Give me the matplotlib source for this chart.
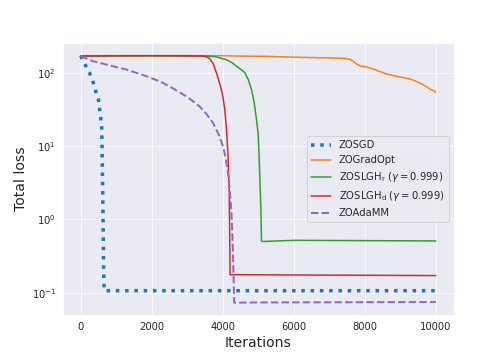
import matplotlib
matplotlib.use("Agg")
import matplotlib.pyplot as plt
import seaborn as sns

# ---- data ----
zosgd_x = [0, 120, 245, 345, 415, 500, 535, 565, 590, 600, 615, 630, 645, 660, 1000, 5000, 10000]
zosgd_y = [170, 129, 100, 75, 57, 43, 31, 23.5, 17.6, 9.7, 3.0, 0.8, 0.2, 0.107, 0.107, 0.107, 0.107]

gradopt_x = [0, 2000, 4000, 4500, 5230, 6080, 7000, 7480, 7600, 7670, 7780, 7900, 8000, 8120, 8230,
             8320, 8400, 8500, 8610, 8700, 8800, 8900, 9000, 9170, 9300, 9400, 9550, 9650, 9750,
             9850, 9930, 10000]
gradopt_y = [170, 171, 170, 168, 167, 162, 159, 156, 150, 143, 130, 122, 121, 117, 112,
             109, 104, 101, 95.5, 94, 91, 89, 87, 84, 81, 78, 72, 68, 64,
             59, 57, 54]

slghr_x = [0, 3000, 3500, 3800, 4100, 4250, 4390, 4520, 4620, 4720, 4810, 4860, 4900, 4950,
           4995, 5020, 5040, 5070, 5090, 5100, 6000, 8000, 10000]
slghr_y = [170, 170, 169, 165, 150, 138, 122, 110, 100, 80, 58.5, 45, 34.5, 22.7,
           14.9, 8.0, 4.2, 1.5, 0.515, 0.50, 0.52, 0.515, 0.51]

slghd_x = [0, 2000, 3450, 3550, 3630, 3720, 3820, 3900, 3960, 4010, 4060, 4100, 4150, 4180,
           4195, 4205, 10000]
slghd_y = [168, 170, 168, 164, 155, 135, 100, 75, 58.5, 45, 30, 18, 7.1, 2.5,
           0.6, 0.177, 0.172]

adamm_x = [0, 100, 350, 800, 1290, 1750, 2230, 2600, 2980, 3200, 3350, 3550, 3730, 3880,
           4010, 4090, 4150, 4200, 4245, 4270, 4290, 4305, 4320, 5000, 10000]
adamm_y = [170, 160, 143, 126, 110, 93, 76, 61, 47.3, 39.5, 34.5, 27, 20.5, 14.5,
           9.8, 6.5, 4.2, 2.4, 1.2, 0.6, 0.30, 0.15, 0.0736, 0.074, 0.075]

labels = ["ZOSGD", "ZOGradOpt",
          r"ZOSLGH$_\mathrm{r}$ ($\gamma = 0.999$)",
          r"ZOSLGH$_\mathrm{d}$ ($\gamma = 0.999$)",
          "ZOAdaMM"]

sns.set_style("darkgrid")
plt.rcParams['font.family'] = ['DejaVu Sans']

fig = plt.figure(figsize=(7, 5), dpi=72)
ax = fig.add_subplot(111)
fig.subplots_adjust(left=0.125, right=0.9, bottom=0.125, top=0.88)

ax.plot(zosgd_x, zosgd_y, color="#1f77b4", linestyle=":", linewidth=3.5, label=labels[0])
ax.plot(gradopt_x, gradopt_y, color="#ff7f0e", linewidth=1.5, label=labels[1])
ax.plot(slghr_x, slghr_y, color="#2ca02c", linewidth=1.5, label=labels[2])
ax.plot(slghd_x, slghd_y, color="#d62728", linewidth=1.5, label=labels[3])
ax.plot(adamm_x, adamm_y, color="#9467bd", linestyle="--", linewidth=2, label=labels[4])

ax.set_yscale("log")
ax.set_xlabel("Iterations", fontsize=14)
ax.set_ylabel("Total loss", fontsize=14)
ax.tick_params(labelsize=10)
ax.legend(loc="center right", fontsize=10)

fig.savefig("out.png", dpi=72)
